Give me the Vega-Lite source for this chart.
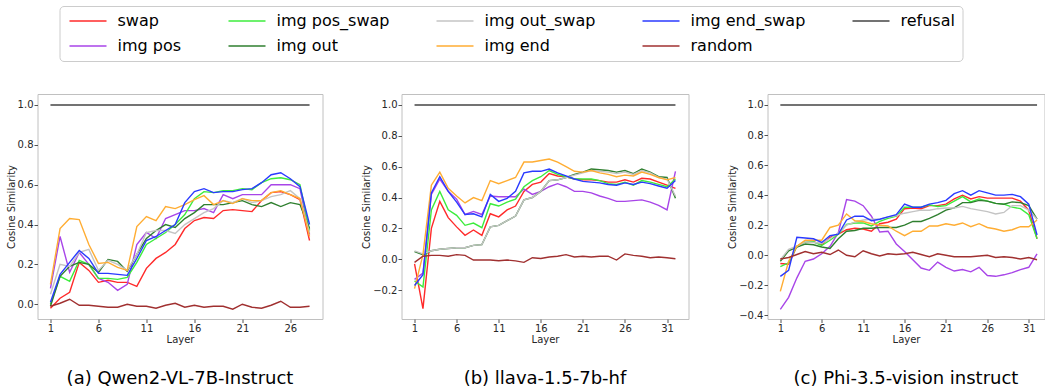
{
"$schema": "https://vega.github.io/schema/vega-lite/v6.json",
"background": "white",
"padding": {"left": 5.5, "top": 5, "right": 0, "bottom": 0},
"spacing": 79,
"bounds": "flush",
"data": {"values": [
{"m":"a","s":"swap","x":1,"y":-0.02},{"m":"a","s":"swap","x":2,"y":0.03},{"m":"a","s":"swap","x":3,"y":0.06},{"m":"a","s":"swap","x":4,"y":0.21},{"m":"a","s":"swap","x":5,"y":0.17},{"m":"a","s":"swap","x":6,"y":0.11},{"m":"a","s":"swap","x":7,"y":0.12},{"m":"a","s":"swap","x":8,"y":0.11},{"m":"a","s":"swap","x":9,"y":0.11},{"m":"a","s":"swap","x":10,"y":0.09},{"m":"a","s":"swap","x":11,"y":0.18},{"m":"a","s":"swap","x":12,"y":0.23},{"m":"a","s":"swap","x":13,"y":0.26},{"m":"a","s":"swap","x":14,"y":0.30},{"m":"a","s":"swap","x":15,"y":0.38},{"m":"a","s":"swap","x":16,"y":0.42},{"m":"a","s":"swap","x":17,"y":0.435},{"m":"a","s":"swap","x":18,"y":0.43},{"m":"a","s":"swap","x":19,"y":0.47},{"m":"a","s":"swap","x":20,"y":0.475},{"m":"a","s":"swap","x":21,"y":0.47},{"m":"a","s":"swap","x":22,"y":0.465},{"m":"a","s":"swap","x":23,"y":0.52},{"m":"a","s":"swap","x":24,"y":0.56},{"m":"a","s":"swap","x":25,"y":0.565},{"m":"a","s":"swap","x":26,"y":0.55},{"m":"a","s":"swap","x":27,"y":0.525},{"m":"a","s":"swap","x":28,"y":0.32},
{"m":"a","s":"img pos","x":1,"y":0.08},{"m":"a","s":"img pos","x":2,"y":0.34},{"m":"a","s":"img pos","x":3,"y":0.16},{"m":"a","s":"img pos","x":4,"y":0.26},{"m":"a","s":"img pos","x":5,"y":0.20},{"m":"a","s":"img pos","x":6,"y":0.13},{"m":"a","s":"img pos","x":7,"y":0.11},{"m":"a","s":"img pos","x":8,"y":0.07},{"m":"a","s":"img pos","x":9,"y":0.10},{"m":"a","s":"img pos","x":10,"y":0.30},{"m":"a","s":"img pos","x":11,"y":0.36},{"m":"a","s":"img pos","x":12,"y":0.33},{"m":"a","s":"img pos","x":13,"y":0.43},{"m":"a","s":"img pos","x":14,"y":0.45},{"m":"a","s":"img pos","x":15,"y":0.47},{"m":"a","s":"img pos","x":16,"y":0.47},{"m":"a","s":"img pos","x":17,"y":0.48},{"m":"a","s":"img pos","x":18,"y":0.46},{"m":"a","s":"img pos","x":19,"y":0.55},{"m":"a","s":"img pos","x":20,"y":0.53},{"m":"a","s":"img pos","x":21,"y":0.55},{"m":"a","s":"img pos","x":22,"y":0.55},{"m":"a","s":"img pos","x":23,"y":0.55},{"m":"a","s":"img pos","x":24,"y":0.60},{"m":"a","s":"img pos","x":25,"y":0.60},{"m":"a","s":"img pos","x":26,"y":0.60},{"m":"a","s":"img pos","x":27,"y":0.58},{"m":"a","s":"img pos","x":28,"y":0.35},
{"m":"a","s":"img pos_swap","x":1,"y":0.00},{"m":"a","s":"img pos_swap","x":2,"y":0.14},{"m":"a","s":"img pos_swap","x":3,"y":0.115},{"m":"a","s":"img pos_swap","x":4,"y":0.22},{"m":"a","s":"img pos_swap","x":5,"y":0.20},{"m":"a","s":"img pos_swap","x":6,"y":0.13},{"m":"a","s":"img pos_swap","x":7,"y":0.13},{"m":"a","s":"img pos_swap","x":8,"y":0.125},{"m":"a","s":"img pos_swap","x":9,"y":0.135},{"m":"a","s":"img pos_swap","x":10,"y":0.21},{"m":"a","s":"img pos_swap","x":11,"y":0.30},{"m":"a","s":"img pos_swap","x":12,"y":0.33},{"m":"a","s":"img pos_swap","x":13,"y":0.36},{"m":"a","s":"img pos_swap","x":14,"y":0.40},{"m":"a","s":"img pos_swap","x":15,"y":0.45},{"m":"a","s":"img pos_swap","x":16,"y":0.53},{"m":"a","s":"img pos_swap","x":17,"y":0.565},{"m":"a","s":"img pos_swap","x":18,"y":0.56},{"m":"a","s":"img pos_swap","x":19,"y":0.57},{"m":"a","s":"img pos_swap","x":20,"y":0.57},{"m":"a","s":"img pos_swap","x":21,"y":0.58},{"m":"a","s":"img pos_swap","x":22,"y":0.575},{"m":"a","s":"img pos_swap","x":23,"y":0.61},{"m":"a","s":"img pos_swap","x":24,"y":0.63},{"m":"a","s":"img pos_swap","x":25,"y":0.635},{"m":"a","s":"img pos_swap","x":26,"y":0.625},{"m":"a","s":"img pos_swap","x":27,"y":0.60},{"m":"a","s":"img pos_swap","x":28,"y":0.37},
{"m":"a","s":"img out","x":1,"y":-0.01},{"m":"a","s":"img out","x":2,"y":0.14},{"m":"a","s":"img out","x":3,"y":0.19},{"m":"a","s":"img out","x":4,"y":0.21},{"m":"a","s":"img out","x":5,"y":0.20},{"m":"a","s":"img out","x":6,"y":0.16},{"m":"a","s":"img out","x":7,"y":0.225},{"m":"a","s":"img out","x":8,"y":0.215},{"m":"a","s":"img out","x":9,"y":0.165},{"m":"a","s":"img out","x":10,"y":0.25},{"m":"a","s":"img out","x":11,"y":0.33},{"m":"a","s":"img out","x":12,"y":0.37},{"m":"a","s":"img out","x":13,"y":0.40},{"m":"a","s":"img out","x":14,"y":0.385},{"m":"a","s":"img out","x":15,"y":0.43},{"m":"a","s":"img out","x":16,"y":0.46},{"m":"a","s":"img out","x":17,"y":0.50},{"m":"a","s":"img out","x":18,"y":0.50},{"m":"a","s":"img out","x":19,"y":0.50},{"m":"a","s":"img out","x":20,"y":0.51},{"m":"a","s":"img out","x":21,"y":0.52},{"m":"a","s":"img out","x":22,"y":0.50},{"m":"a","s":"img out","x":23,"y":0.49},{"m":"a","s":"img out","x":24,"y":0.51},{"m":"a","s":"img out","x":25,"y":0.49},{"m":"a","s":"img out","x":26,"y":0.51},{"m":"a","s":"img out","x":27,"y":0.50},{"m":"a","s":"img out","x":28,"y":0.38},
{"m":"a","s":"img out_swap","x":1,"y":0.05},{"m":"a","s":"img out_swap","x":2,"y":0.20},{"m":"a","s":"img out_swap","x":3,"y":0.19},{"m":"a","s":"img out_swap","x":4,"y":0.26},{"m":"a","s":"img out_swap","x":5,"y":0.275},{"m":"a","s":"img out_swap","x":6,"y":0.17},{"m":"a","s":"img out_swap","x":7,"y":0.22},{"m":"a","s":"img out_swap","x":8,"y":0.20},{"m":"a","s":"img out_swap","x":9,"y":0.17},{"m":"a","s":"img out_swap","x":10,"y":0.25},{"m":"a","s":"img out_swap","x":11,"y":0.36},{"m":"a","s":"img out_swap","x":12,"y":0.37},{"m":"a","s":"img out_swap","x":13,"y":0.37},{"m":"a","s":"img out_swap","x":14,"y":0.355},{"m":"a","s":"img out_swap","x":15,"y":0.40},{"m":"a","s":"img out_swap","x":16,"y":0.43},{"m":"a","s":"img out_swap","x":17,"y":0.46},{"m":"a","s":"img out_swap","x":18,"y":0.48},{"m":"a","s":"img out_swap","x":19,"y":0.52},{"m":"a","s":"img out_swap","x":20,"y":0.51},{"m":"a","s":"img out_swap","x":21,"y":0.53},{"m":"a","s":"img out_swap","x":22,"y":0.51},{"m":"a","s":"img out_swap","x":23,"y":0.52},{"m":"a","s":"img out_swap","x":24,"y":0.54},{"m":"a","s":"img out_swap","x":25,"y":0.55},{"m":"a","s":"img out_swap","x":26,"y":0.57},{"m":"a","s":"img out_swap","x":27,"y":0.53},{"m":"a","s":"img out_swap","x":28,"y":0.36},
{"m":"a","s":"img end","x":1,"y":0.10},{"m":"a","s":"img end","x":2,"y":0.38},{"m":"a","s":"img end","x":3,"y":0.43},{"m":"a","s":"img end","x":4,"y":0.425},{"m":"a","s":"img end","x":5,"y":0.30},{"m":"a","s":"img end","x":6,"y":0.205},{"m":"a","s":"img end","x":7,"y":0.21},{"m":"a","s":"img end","x":8,"y":0.185},{"m":"a","s":"img end","x":9,"y":0.17},{"m":"a","s":"img end","x":10,"y":0.39},{"m":"a","s":"img end","x":11,"y":0.44},{"m":"a","s":"img end","x":12,"y":0.42},{"m":"a","s":"img end","x":13,"y":0.49},{"m":"a","s":"img end","x":14,"y":0.48},{"m":"a","s":"img end","x":15,"y":0.50},{"m":"a","s":"img end","x":16,"y":0.525},{"m":"a","s":"img end","x":17,"y":0.545},{"m":"a","s":"img end","x":18,"y":0.50},{"m":"a","s":"img end","x":19,"y":0.52},{"m":"a","s":"img end","x":20,"y":0.505},{"m":"a","s":"img end","x":21,"y":0.53},{"m":"a","s":"img end","x":22,"y":0.52},{"m":"a","s":"img end","x":23,"y":0.52},{"m":"a","s":"img end","x":24,"y":0.56},{"m":"a","s":"img end","x":25,"y":0.57},{"m":"a","s":"img end","x":26,"y":0.55},{"m":"a","s":"img end","x":27,"y":0.53},{"m":"a","s":"img end","x":28,"y":0.34},
{"m":"a","s":"img end_swap","x":1,"y":0.01},{"m":"a","s":"img end_swap","x":2,"y":0.15},{"m":"a","s":"img end_swap","x":3,"y":0.21},{"m":"a","s":"img end_swap","x":4,"y":0.27},{"m":"a","s":"img end_swap","x":5,"y":0.23},{"m":"a","s":"img end_swap","x":6,"y":0.155},{"m":"a","s":"img end_swap","x":7,"y":0.155},{"m":"a","s":"img end_swap","x":8,"y":0.15},{"m":"a","s":"img end_swap","x":9,"y":0.145},{"m":"a","s":"img end_swap","x":10,"y":0.23},{"m":"a","s":"img end_swap","x":11,"y":0.32},{"m":"a","s":"img end_swap","x":12,"y":0.34},{"m":"a","s":"img end_swap","x":13,"y":0.37},{"m":"a","s":"img end_swap","x":14,"y":0.40},{"m":"a","s":"img end_swap","x":15,"y":0.51},{"m":"a","s":"img end_swap","x":16,"y":0.565},{"m":"a","s":"img end_swap","x":17,"y":0.58},{"m":"a","s":"img end_swap","x":18,"y":0.56},{"m":"a","s":"img end_swap","x":19,"y":0.565},{"m":"a","s":"img end_swap","x":20,"y":0.565},{"m":"a","s":"img end_swap","x":21,"y":0.575},{"m":"a","s":"img end_swap","x":22,"y":0.58},{"m":"a","s":"img end_swap","x":23,"y":0.61},{"m":"a","s":"img end_swap","x":24,"y":0.65},{"m":"a","s":"img end_swap","x":25,"y":0.66},{"m":"a","s":"img end_swap","x":26,"y":0.63},{"m":"a","s":"img end_swap","x":27,"y":0.59},{"m":"a","s":"img end_swap","x":28,"y":0.40},
{"m":"a","s":"random","x":1,"y":-0.01},{"m":"a","s":"random","x":2,"y":0.005},{"m":"a","s":"random","x":3,"y":0.025},{"m":"a","s":"random","x":4,"y":-0.005},{"m":"a","s":"random","x":5,"y":-0.005},{"m":"a","s":"random","x":6,"y":-0.01},{"m":"a","s":"random","x":7,"y":-0.015},{"m":"a","s":"random","x":8,"y":-0.015},{"m":"a","s":"random","x":9,"y":0.00},{"m":"a","s":"random","x":10,"y":-0.01},{"m":"a","s":"random","x":11,"y":-0.01},{"m":"a","s":"random","x":12,"y":-0.02},{"m":"a","s":"random","x":13,"y":-0.005},{"m":"a","s":"random","x":14,"y":0.005},{"m":"a","s":"random","x":15,"y":-0.015},{"m":"a","s":"random","x":16,"y":-0.005},{"m":"a","s":"random","x":17,"y":-0.015},{"m":"a","s":"random","x":18,"y":-0.01},{"m":"a","s":"random","x":19,"y":-0.01},{"m":"a","s":"random","x":20,"y":-0.025},{"m":"a","s":"random","x":21,"y":0.00},{"m":"a","s":"random","x":22,"y":-0.015},{"m":"a","s":"random","x":23,"y":-0.02},{"m":"a","s":"random","x":24,"y":-0.005},{"m":"a","s":"random","x":25,"y":0.015},{"m":"a","s":"random","x":26,"y":-0.015},{"m":"a","s":"random","x":27,"y":-0.015},{"m":"a","s":"random","x":28,"y":-0.01},
{"m":"a","s":"refusal","x":1,"y":1},{"m":"a","s":"refusal","x":2,"y":1},{"m":"a","s":"refusal","x":3,"y":1},{"m":"a","s":"refusal","x":4,"y":1},{"m":"a","s":"refusal","x":5,"y":1},{"m":"a","s":"refusal","x":6,"y":1},{"m":"a","s":"refusal","x":7,"y":1},{"m":"a","s":"refusal","x":8,"y":1},{"m":"a","s":"refusal","x":9,"y":1},{"m":"a","s":"refusal","x":10,"y":1},{"m":"a","s":"refusal","x":11,"y":1},{"m":"a","s":"refusal","x":12,"y":1},{"m":"a","s":"refusal","x":13,"y":1},{"m":"a","s":"refusal","x":14,"y":1},{"m":"a","s":"refusal","x":15,"y":1},{"m":"a","s":"refusal","x":16,"y":1},{"m":"a","s":"refusal","x":17,"y":1},{"m":"a","s":"refusal","x":18,"y":1},{"m":"a","s":"refusal","x":19,"y":1},{"m":"a","s":"refusal","x":20,"y":1},{"m":"a","s":"refusal","x":21,"y":1},{"m":"a","s":"refusal","x":22,"y":1},{"m":"a","s":"refusal","x":23,"y":1},{"m":"a","s":"refusal","x":24,"y":1},{"m":"a","s":"refusal","x":25,"y":1},{"m":"a","s":"refusal","x":26,"y":1},{"m":"a","s":"refusal","x":27,"y":1},{"m":"a","s":"refusal","x":28,"y":1},

{"m":"b","s":"swap","x":1,"y":-0.03},{"m":"b","s":"swap","x":2,"y":-0.32},{"m":"b","s":"swap","x":3,"y":0.20},{"m":"b","s":"swap","x":4,"y":0.375},{"m":"b","s":"swap","x":5,"y":0.27},{"m":"b","s":"swap","x":6,"y":0.21},{"m":"b","s":"swap","x":7,"y":0.155},{"m":"b","s":"swap","x":8,"y":0.19},{"m":"b","s":"swap","x":9,"y":0.155},{"m":"b","s":"swap","x":10,"y":0.295},{"m":"b","s":"swap","x":11,"y":0.275},{"m":"b","s":"swap","x":12,"y":0.32},{"m":"b","s":"swap","x":13,"y":0.345},{"m":"b","s":"swap","x":14,"y":0.44},{"m":"b","s":"swap","x":15,"y":0.485},{"m":"b","s":"swap","x":16,"y":0.50},{"m":"b","s":"swap","x":17,"y":0.555},{"m":"b","s":"swap","x":18,"y":0.54},{"m":"b","s":"swap","x":19,"y":0.535},{"m":"b","s":"swap","x":20,"y":0.52},{"m":"b","s":"swap","x":21,"y":0.515},{"m":"b","s":"swap","x":22,"y":0.515},{"m":"b","s":"swap","x":23,"y":0.51},{"m":"b","s":"swap","x":24,"y":0.50},{"m":"b","s":"swap","x":25,"y":0.50},{"m":"b","s":"swap","x":26,"y":0.515},{"m":"b","s":"swap","x":27,"y":0.50},{"m":"b","s":"swap","x":28,"y":0.525},{"m":"b","s":"swap","x":29,"y":0.52},{"m":"b","s":"swap","x":30,"y":0.50},{"m":"b","s":"swap","x":31,"y":0.48},{"m":"b","s":"swap","x":32,"y":0.46},
{"m":"b","s":"img pos","x":1,"y":-0.13},{"m":"b","s":"img pos","x":2,"y":-0.09},{"m":"b","s":"img pos","x":3,"y":0.42},{"m":"b","s":"img pos","x":4,"y":0.52},{"m":"b","s":"img pos","x":5,"y":0.44},{"m":"b","s":"img pos","x":6,"y":0.39},{"m":"b","s":"img pos","x":7,"y":0.29},{"m":"b","s":"img pos","x":8,"y":0.31},{"m":"b","s":"img pos","x":9,"y":0.29},{"m":"b","s":"img pos","x":10,"y":0.41},{"m":"b","s":"img pos","x":11,"y":0.405},{"m":"b","s":"img pos","x":12,"y":0.405},{"m":"b","s":"img pos","x":13,"y":0.405},{"m":"b","s":"img pos","x":14,"y":0.455},{"m":"b","s":"img pos","x":15,"y":0.42},{"m":"b","s":"img pos","x":16,"y":0.44},{"m":"b","s":"img pos","x":17,"y":0.47},{"m":"b","s":"img pos","x":18,"y":0.49},{"m":"b","s":"img pos","x":19,"y":0.47},{"m":"b","s":"img pos","x":20,"y":0.44},{"m":"b","s":"img pos","x":21,"y":0.44},{"m":"b","s":"img pos","x":22,"y":0.43},{"m":"b","s":"img pos","x":23,"y":0.41},{"m":"b","s":"img pos","x":24,"y":0.395},{"m":"b","s":"img pos","x":25,"y":0.375},{"m":"b","s":"img pos","x":26,"y":0.375},{"m":"b","s":"img pos","x":27,"y":0.38},{"m":"b","s":"img pos","x":28,"y":0.385},{"m":"b","s":"img pos","x":29,"y":0.37},{"m":"b","s":"img pos","x":30,"y":0.35},{"m":"b","s":"img pos","x":31,"y":0.32},{"m":"b","s":"img pos","x":32,"y":0.57},
{"m":"b","s":"img pos_swap","x":1,"y":-0.14},{"m":"b","s":"img pos_swap","x":2,"y":-0.18},{"m":"b","s":"img pos_swap","x":3,"y":0.32},{"m":"b","s":"img pos_swap","x":4,"y":0.44},{"m":"b","s":"img pos_swap","x":5,"y":0.32},{"m":"b","s":"img pos_swap","x":6,"y":0.285},{"m":"b","s":"img pos_swap","x":7,"y":0.22},{"m":"b","s":"img pos_swap","x":8,"y":0.235},{"m":"b","s":"img pos_swap","x":9,"y":0.205},{"m":"b","s":"img pos_swap","x":10,"y":0.36},{"m":"b","s":"img pos_swap","x":11,"y":0.345},{"m":"b","s":"img pos_swap","x":12,"y":0.37},{"m":"b","s":"img pos_swap","x":13,"y":0.39},{"m":"b","s":"img pos_swap","x":14,"y":0.47},{"m":"b","s":"img pos_swap","x":15,"y":0.51},{"m":"b","s":"img pos_swap","x":16,"y":0.535},{"m":"b","s":"img pos_swap","x":17,"y":0.575},{"m":"b","s":"img pos_swap","x":18,"y":0.55},{"m":"b","s":"img pos_swap","x":19,"y":0.535},{"m":"b","s":"img pos_swap","x":20,"y":0.52},{"m":"b","s":"img pos_swap","x":21,"y":0.52},{"m":"b","s":"img pos_swap","x":22,"y":0.52},{"m":"b","s":"img pos_swap","x":23,"y":0.51},{"m":"b","s":"img pos_swap","x":24,"y":0.49},{"m":"b","s":"img pos_swap","x":25,"y":0.485},{"m":"b","s":"img pos_swap","x":26,"y":0.50},{"m":"b","s":"img pos_swap","x":27,"y":0.48},{"m":"b","s":"img pos_swap","x":28,"y":0.51},{"m":"b","s":"img pos_swap","x":29,"y":0.50},{"m":"b","s":"img pos_swap","x":30,"y":0.485},{"m":"b","s":"img pos_swap","x":31,"y":0.47},{"m":"b","s":"img pos_swap","x":32,"y":0.52},
{"m":"b","s":"img out","x":1,"y":0.05},{"m":"b","s":"img out","x":2,"y":0.03},{"m":"b","s":"img out","x":3,"y":0.055},{"m":"b","s":"img out","x":4,"y":0.065},{"m":"b","s":"img out","x":5,"y":0.07},{"m":"b","s":"img out","x":6,"y":0.075},{"m":"b","s":"img out","x":7,"y":0.075},{"m":"b","s":"img out","x":8,"y":0.09},{"m":"b","s":"img out","x":9,"y":0.095},{"m":"b","s":"img out","x":10,"y":0.21},{"m":"b","s":"img out","x":11,"y":0.22},{"m":"b","s":"img out","x":12,"y":0.25},{"m":"b","s":"img out","x":13,"y":0.28},{"m":"b","s":"img out","x":14,"y":0.385},{"m":"b","s":"img out","x":15,"y":0.40},{"m":"b","s":"img out","x":16,"y":0.44},{"m":"b","s":"img out","x":17,"y":0.51},{"m":"b","s":"img out","x":18,"y":0.515},{"m":"b","s":"img out","x":19,"y":0.53},{"m":"b","s":"img out","x":20,"y":0.55},{"m":"b","s":"img out","x":21,"y":0.565},{"m":"b","s":"img out","x":22,"y":0.585},{"m":"b","s":"img out","x":23,"y":0.58},{"m":"b","s":"img out","x":24,"y":0.575},{"m":"b","s":"img out","x":25,"y":0.565},{"m":"b","s":"img out","x":26,"y":0.575},{"m":"b","s":"img out","x":27,"y":0.555},{"m":"b","s":"img out","x":28,"y":0.585},{"m":"b","s":"img out","x":29,"y":0.565},{"m":"b","s":"img out","x":30,"y":0.535},{"m":"b","s":"img out","x":31,"y":0.53},{"m":"b","s":"img out","x":32,"y":0.395},
{"m":"b","s":"img out_swap","x":1,"y":0.055},{"m":"b","s":"img out_swap","x":2,"y":0.035},{"m":"b","s":"img out_swap","x":3,"y":0.055},{"m":"b","s":"img out_swap","x":4,"y":0.065},{"m":"b","s":"img out_swap","x":5,"y":0.07},{"m":"b","s":"img out_swap","x":6,"y":0.075},{"m":"b","s":"img out_swap","x":7,"y":0.075},{"m":"b","s":"img out_swap","x":8,"y":0.09},{"m":"b","s":"img out_swap","x":9,"y":0.095},{"m":"b","s":"img out_swap","x":10,"y":0.21},{"m":"b","s":"img out_swap","x":11,"y":0.22},{"m":"b","s":"img out_swap","x":12,"y":0.25},{"m":"b","s":"img out_swap","x":13,"y":0.28},{"m":"b","s":"img out_swap","x":14,"y":0.385},{"m":"b","s":"img out_swap","x":15,"y":0.40},{"m":"b","s":"img out_swap","x":16,"y":0.44},{"m":"b","s":"img out_swap","x":17,"y":0.51},{"m":"b","s":"img out_swap","x":18,"y":0.515},{"m":"b","s":"img out_swap","x":19,"y":0.53},{"m":"b","s":"img out_swap","x":20,"y":0.545},{"m":"b","s":"img out_swap","x":21,"y":0.56},{"m":"b","s":"img out_swap","x":22,"y":0.575},{"m":"b","s":"img out_swap","x":23,"y":0.57},{"m":"b","s":"img out_swap","x":24,"y":0.565},{"m":"b","s":"img out_swap","x":25,"y":0.555},{"m":"b","s":"img out_swap","x":26,"y":0.565},{"m":"b","s":"img out_swap","x":27,"y":0.55},{"m":"b","s":"img out_swap","x":28,"y":0.575},{"m":"b","s":"img out_swap","x":29,"y":0.56},{"m":"b","s":"img out_swap","x":30,"y":0.53},{"m":"b","s":"img out_swap","x":31,"y":0.52},{"m":"b","s":"img out_swap","x":32,"y":0.41},
{"m":"b","s":"img end","x":1,"y":-0.19},{"m":"b","s":"img end","x":2,"y":0.03},{"m":"b","s":"img end","x":3,"y":0.48},{"m":"b","s":"img end","x":4,"y":0.565},{"m":"b","s":"img end","x":5,"y":0.46},{"m":"b","s":"img end","x":6,"y":0.41},{"m":"b","s":"img end","x":7,"y":0.365},{"m":"b","s":"img end","x":8,"y":0.40},{"m":"b","s":"img end","x":9,"y":0.38},{"m":"b","s":"img end","x":10,"y":0.51},{"m":"b","s":"img end","x":11,"y":0.49},{"m":"b","s":"img end","x":12,"y":0.51},{"m":"b","s":"img end","x":13,"y":0.53},{"m":"b","s":"img end","x":14,"y":0.63},{"m":"b","s":"img end","x":15,"y":0.63},{"m":"b","s":"img end","x":16,"y":0.64},{"m":"b","s":"img end","x":17,"y":0.65},{"m":"b","s":"img end","x":18,"y":0.63},{"m":"b","s":"img end","x":19,"y":0.60},{"m":"b","s":"img end","x":20,"y":0.57},{"m":"b","s":"img end","x":21,"y":0.565},{"m":"b","s":"img end","x":22,"y":0.575},{"m":"b","s":"img end","x":23,"y":0.56},{"m":"b","s":"img end","x":24,"y":0.55},{"m":"b","s":"img end","x":25,"y":0.535},{"m":"b","s":"img end","x":26,"y":0.545},{"m":"b","s":"img end","x":27,"y":0.54},{"m":"b","s":"img end","x":28,"y":0.565},{"m":"b","s":"img end","x":29,"y":0.55},{"m":"b","s":"img end","x":30,"y":0.53},{"m":"b","s":"img end","x":31,"y":0.515},{"m":"b","s":"img end","x":32,"y":0.53},
{"m":"b","s":"img end_swap","x":1,"y":-0.17},{"m":"b","s":"img end_swap","x":2,"y":-0.10},{"m":"b","s":"img end_swap","x":3,"y":0.43},{"m":"b","s":"img end_swap","x":4,"y":0.535},{"m":"b","s":"img end_swap","x":5,"y":0.44},{"m":"b","s":"img end_swap","x":6,"y":0.37},{"m":"b","s":"img end_swap","x":7,"y":0.29},{"m":"b","s":"img end_swap","x":8,"y":0.295},{"m":"b","s":"img end_swap","x":9,"y":0.275},{"m":"b","s":"img end_swap","x":10,"y":0.42},{"m":"b","s":"img end_swap","x":11,"y":0.375},{"m":"b","s":"img end_swap","x":12,"y":0.395},{"m":"b","s":"img end_swap","x":13,"y":0.44},{"m":"b","s":"img end_swap","x":14,"y":0.56},{"m":"b","s":"img end_swap","x":15,"y":0.57},{"m":"b","s":"img end_swap","x":16,"y":0.57},{"m":"b","s":"img end_swap","x":17,"y":0.585},{"m":"b","s":"img end_swap","x":18,"y":0.56},{"m":"b","s":"img end_swap","x":19,"y":0.54},{"m":"b","s":"img end_swap","x":20,"y":0.52},{"m":"b","s":"img end_swap","x":21,"y":0.505},{"m":"b","s":"img end_swap","x":22,"y":0.50},{"m":"b","s":"img end_swap","x":23,"y":0.495},{"m":"b","s":"img end_swap","x":24,"y":0.485},{"m":"b","s":"img end_swap","x":25,"y":0.48},{"m":"b","s":"img end_swap","x":26,"y":0.495},{"m":"b","s":"img end_swap","x":27,"y":0.485},{"m":"b","s":"img end_swap","x":28,"y":0.50},{"m":"b","s":"img end_swap","x":29,"y":0.49},{"m":"b","s":"img end_swap","x":30,"y":0.475},{"m":"b","s":"img end_swap","x":31,"y":0.46},{"m":"b","s":"img end_swap","x":32,"y":0.51},
{"m":"b","s":"random","x":1,"y":-0.02},{"m":"b","s":"random","x":2,"y":0.02},{"m":"b","s":"random","x":3,"y":0.025},{"m":"b","s":"random","x":4,"y":0.025},{"m":"b","s":"random","x":5,"y":0.02},{"m":"b","s":"random","x":6,"y":0.03},{"m":"b","s":"random","x":7,"y":0.025},{"m":"b","s":"random","x":8,"y":-0.005},{"m":"b","s":"random","x":9,"y":-0.005},{"m":"b","s":"random","x":10,"y":-0.005},{"m":"b","s":"random","x":11,"y":-0.01},{"m":"b","s":"random","x":12,"y":-0.005},{"m":"b","s":"random","x":13,"y":-0.01},{"m":"b","s":"random","x":14,"y":-0.02},{"m":"b","s":"random","x":15,"y":0.01},{"m":"b","s":"random","x":16,"y":0.005},{"m":"b","s":"random","x":17,"y":0.015},{"m":"b","s":"random","x":18,"y":0.02},{"m":"b","s":"random","x":19,"y":0.03},{"m":"b","s":"random","x":20,"y":0.015},{"m":"b","s":"random","x":21,"y":0.02},{"m":"b","s":"random","x":22,"y":0.015},{"m":"b","s":"random","x":23,"y":0.02},{"m":"b","s":"random","x":24,"y":0.02},{"m":"b","s":"random","x":25,"y":-0.005},{"m":"b","s":"random","x":26,"y":0.035},{"m":"b","s":"random","x":27,"y":0.025},{"m":"b","s":"random","x":28,"y":0.02},{"m":"b","s":"random","x":29,"y":0.01},{"m":"b","s":"random","x":30,"y":0.015},{"m":"b","s":"random","x":31,"y":0.01},{"m":"b","s":"random","x":32,"y":0.003},
{"m":"b","s":"refusal","x":1,"y":1},{"m":"b","s":"refusal","x":2,"y":1},{"m":"b","s":"refusal","x":3,"y":1},{"m":"b","s":"refusal","x":4,"y":1},{"m":"b","s":"refusal","x":5,"y":1},{"m":"b","s":"refusal","x":6,"y":1},{"m":"b","s":"refusal","x":7,"y":1},{"m":"b","s":"refusal","x":8,"y":1},{"m":"b","s":"refusal","x":9,"y":1},{"m":"b","s":"refusal","x":10,"y":1},{"m":"b","s":"refusal","x":11,"y":1},{"m":"b","s":"refusal","x":12,"y":1},{"m":"b","s":"refusal","x":13,"y":1},{"m":"b","s":"refusal","x":14,"y":1},{"m":"b","s":"refusal","x":15,"y":1},{"m":"b","s":"refusal","x":16,"y":1},{"m":"b","s":"refusal","x":17,"y":1},{"m":"b","s":"refusal","x":18,"y":1},{"m":"b","s":"refusal","x":19,"y":1},{"m":"b","s":"refusal","x":20,"y":1},{"m":"b","s":"refusal","x":21,"y":1},{"m":"b","s":"refusal","x":22,"y":1},{"m":"b","s":"refusal","x":23,"y":1},{"m":"b","s":"refusal","x":24,"y":1},{"m":"b","s":"refusal","x":25,"y":1},{"m":"b","s":"refusal","x":26,"y":1},{"m":"b","s":"refusal","x":27,"y":1},{"m":"b","s":"refusal","x":28,"y":1},{"m":"b","s":"refusal","x":29,"y":1},{"m":"b","s":"refusal","x":30,"y":1},{"m":"b","s":"refusal","x":31,"y":1},{"m":"b","s":"refusal","x":32,"y":1},

{"m":"c","s":"swap","x":1,"y":-0.055},{"m":"c","s":"swap","x":2,"y":-0.06},{"m":"c","s":"swap","x":3,"y":0.06},{"m":"c","s":"swap","x":4,"y":0.09},{"m":"c","s":"swap","x":5,"y":0.09},{"m":"c","s":"swap","x":6,"y":0.07},{"m":"c","s":"swap","x":7,"y":0.12},{"m":"c","s":"swap","x":8,"y":0.14},{"m":"c","s":"swap","x":9,"y":0.17},{"m":"c","s":"swap","x":10,"y":0.18},{"m":"c","s":"swap","x":11,"y":0.175},{"m":"c","s":"swap","x":12,"y":0.16},{"m":"c","s":"swap","x":13,"y":0.21},{"m":"c","s":"swap","x":14,"y":0.22},{"m":"c","s":"swap","x":15,"y":0.24},{"m":"c","s":"swap","x":16,"y":0.31},{"m":"c","s":"swap","x":17,"y":0.315},{"m":"c","s":"swap","x":18,"y":0.31},{"m":"c","s":"swap","x":19,"y":0.33},{"m":"c","s":"swap","x":20,"y":0.33},{"m":"c","s":"swap","x":21,"y":0.34},{"m":"c","s":"swap","x":22,"y":0.375},{"m":"c","s":"swap","x":23,"y":0.40},{"m":"c","s":"swap","x":24,"y":0.375},{"m":"c","s":"swap","x":25,"y":0.39},{"m":"c","s":"swap","x":26,"y":0.38},{"m":"c","s":"swap","x":27,"y":0.38},{"m":"c","s":"swap","x":28,"y":0.38},{"m":"c","s":"swap","x":29,"y":0.38},{"m":"c","s":"swap","x":30,"y":0.36},{"m":"c","s":"swap","x":31,"y":0.30},{"m":"c","s":"swap","x":32,"y":0.11},
{"m":"c","s":"img pos","x":1,"y":-0.36},{"m":"c","s":"img pos","x":2,"y":-0.28},{"m":"c","s":"img pos","x":3,"y":-0.15},{"m":"c","s":"img pos","x":4,"y":-0.04},{"m":"c","s":"img pos","x":5,"y":-0.025},{"m":"c","s":"img pos","x":6,"y":0.01},{"m":"c","s":"img pos","x":7,"y":0.06},{"m":"c","s":"img pos","x":8,"y":0.15},{"m":"c","s":"img pos","x":9,"y":0.37},{"m":"c","s":"img pos","x":10,"y":0.36},{"m":"c","s":"img pos","x":11,"y":0.33},{"m":"c","s":"img pos","x":12,"y":0.26},{"m":"c","s":"img pos","x":13,"y":0.155},{"m":"c","s":"img pos","x":14,"y":0.16},{"m":"c","s":"img pos","x":15,"y":0.075},{"m":"c","s":"img pos","x":16,"y":0.025},{"m":"c","s":"img pos","x":17,"y":-0.03},{"m":"c","s":"img pos","x":18,"y":-0.085},{"m":"c","s":"img pos","x":19,"y":-0.10},{"m":"c","s":"img pos","x":20,"y":-0.045},{"m":"c","s":"img pos","x":21,"y":-0.08},{"m":"c","s":"img pos","x":22,"y":-0.105},{"m":"c","s":"img pos","x":23,"y":-0.095},{"m":"c","s":"img pos","x":24,"y":-0.11},{"m":"c","s":"img pos","x":25,"y":-0.08},{"m":"c","s":"img pos","x":26,"y":-0.135},{"m":"c","s":"img pos","x":27,"y":-0.14},{"m":"c","s":"img pos","x":28,"y":-0.13},{"m":"c","s":"img pos","x":29,"y":-0.115},{"m":"c","s":"img pos","x":30,"y":-0.095},{"m":"c","s":"img pos","x":31,"y":-0.08},{"m":"c","s":"img pos","x":32,"y":0.01},
{"m":"c","s":"img pos_swap","x":1,"y":-0.075},{"m":"c","s":"img pos_swap","x":2,"y":-0.05},{"m":"c","s":"img pos_swap","x":3,"y":0.06},{"m":"c","s":"img pos_swap","x":4,"y":0.09},{"m":"c","s":"img pos_swap","x":5,"y":0.09},{"m":"c","s":"img pos_swap","x":6,"y":0.065},{"m":"c","s":"img pos_swap","x":7,"y":0.10},{"m":"c","s":"img pos_swap","x":8,"y":0.14},{"m":"c","s":"img pos_swap","x":9,"y":0.205},{"m":"c","s":"img pos_swap","x":10,"y":0.215},{"m":"c","s":"img pos_swap","x":11,"y":0.215},{"m":"c","s":"img pos_swap","x":12,"y":0.195},{"m":"c","s":"img pos_swap","x":13,"y":0.225},{"m":"c","s":"img pos_swap","x":14,"y":0.245},{"m":"c","s":"img pos_swap","x":15,"y":0.26},{"m":"c","s":"img pos_swap","x":16,"y":0.32},{"m":"c","s":"img pos_swap","x":17,"y":0.32},{"m":"c","s":"img pos_swap","x":18,"y":0.32},{"m":"c","s":"img pos_swap","x":19,"y":0.335},{"m":"c","s":"img pos_swap","x":20,"y":0.325},{"m":"c","s":"img pos_swap","x":21,"y":0.33},{"m":"c","s":"img pos_swap","x":22,"y":0.36},{"m":"c","s":"img pos_swap","x":23,"y":0.39},{"m":"c","s":"img pos_swap","x":24,"y":0.355},{"m":"c","s":"img pos_swap","x":25,"y":0.375},{"m":"c","s":"img pos_swap","x":26,"y":0.36},{"m":"c","s":"img pos_swap","x":27,"y":0.345},{"m":"c","s":"img pos_swap","x":28,"y":0.34},{"m":"c","s":"img pos_swap","x":29,"y":0.32},{"m":"c","s":"img pos_swap","x":30,"y":0.31},{"m":"c","s":"img pos_swap","x":31,"y":0.27},{"m":"c","s":"img pos_swap","x":32,"y":0.11},
{"m":"c","s":"img out","x":1,"y":-0.04},{"m":"c","s":"img out","x":2,"y":0.03},{"m":"c","s":"img out","x":3,"y":0.055},{"m":"c","s":"img out","x":4,"y":0.075},{"m":"c","s":"img out","x":5,"y":0.07},{"m":"c","s":"img out","x":6,"y":0.055},{"m":"c","s":"img out","x":7,"y":0.045},{"m":"c","s":"img out","x":8,"y":0.11},{"m":"c","s":"img out","x":9,"y":0.16},{"m":"c","s":"img out","x":10,"y":0.165},{"m":"c","s":"img out","x":11,"y":0.18},{"m":"c","s":"img out","x":12,"y":0.18},{"m":"c","s":"img out","x":13,"y":0.185},{"m":"c","s":"img out","x":14,"y":0.185},{"m":"c","s":"img out","x":15,"y":0.185},{"m":"c","s":"img out","x":16,"y":0.20},{"m":"c","s":"img out","x":17,"y":0.225},{"m":"c","s":"img out","x":18,"y":0.225},{"m":"c","s":"img out","x":19,"y":0.245},{"m":"c","s":"img out","x":20,"y":0.27},{"m":"c","s":"img out","x":21,"y":0.30},{"m":"c","s":"img out","x":22,"y":0.315},{"m":"c","s":"img out","x":23,"y":0.35},{"m":"c","s":"img out","x":24,"y":0.35},{"m":"c","s":"img out","x":25,"y":0.365},{"m":"c","s":"img out","x":26,"y":0.36},{"m":"c","s":"img out","x":27,"y":0.345},{"m":"c","s":"img out","x":28,"y":0.34},{"m":"c","s":"img out","x":29,"y":0.355},{"m":"c","s":"img out","x":30,"y":0.35},{"m":"c","s":"img out","x":31,"y":0.33},{"m":"c","s":"img out","x":32,"y":0.24},
{"m":"c","s":"img out_swap","x":1,"y":-0.03},{"m":"c","s":"img out_swap","x":2,"y":0.04},{"m":"c","s":"img out_swap","x":3,"y":0.06},{"m":"c","s":"img out_swap","x":4,"y":0.09},{"m":"c","s":"img out_swap","x":5,"y":0.085},{"m":"c","s":"img out_swap","x":6,"y":0.08},{"m":"c","s":"img out_swap","x":7,"y":0.11},{"m":"c","s":"img out_swap","x":8,"y":0.15},{"m":"c","s":"img out_swap","x":9,"y":0.20},{"m":"c","s":"img out_swap","x":10,"y":0.22},{"m":"c","s":"img out_swap","x":11,"y":0.235},{"m":"c","s":"img out_swap","x":12,"y":0.24},{"m":"c","s":"img out_swap","x":13,"y":0.24},{"m":"c","s":"img out_swap","x":14,"y":0.255},{"m":"c","s":"img out_swap","x":15,"y":0.265},{"m":"c","s":"img out_swap","x":16,"y":0.28},{"m":"c","s":"img out_swap","x":17,"y":0.29},{"m":"c","s":"img out_swap","x":18,"y":0.30},{"m":"c","s":"img out_swap","x":19,"y":0.30},{"m":"c","s":"img out_swap","x":20,"y":0.31},{"m":"c","s":"img out_swap","x":21,"y":0.315},{"m":"c","s":"img out_swap","x":22,"y":0.315},{"m":"c","s":"img out_swap","x":23,"y":0.325},{"m":"c","s":"img out_swap","x":24,"y":0.31},{"m":"c","s":"img out_swap","x":25,"y":0.30},{"m":"c","s":"img out_swap","x":26,"y":0.29},{"m":"c","s":"img out_swap","x":27,"y":0.275},{"m":"c","s":"img out_swap","x":28,"y":0.285},{"m":"c","s":"img out_swap","x":29,"y":0.33},{"m":"c","s":"img out_swap","x":30,"y":0.33},{"m":"c","s":"img out_swap","x":31,"y":0.30},{"m":"c","s":"img out_swap","x":32,"y":0.24},
{"m":"c","s":"img end","x":1,"y":-0.24},{"m":"c","s":"img end","x":2,"y":-0.04},{"m":"c","s":"img end","x":3,"y":0.06},{"m":"c","s":"img end","x":4,"y":0.10},{"m":"c","s":"img end","x":5,"y":0.10},{"m":"c","s":"img end","x":6,"y":0.10},{"m":"c","s":"img end","x":7,"y":0.185},{"m":"c","s":"img end","x":8,"y":0.20},{"m":"c","s":"img end","x":9,"y":0.275},{"m":"c","s":"img end","x":10,"y":0.23},{"m":"c","s":"img end","x":11,"y":0.225},{"m":"c","s":"img end","x":12,"y":0.21},{"m":"c","s":"img end","x":13,"y":0.20},{"m":"c","s":"img end","x":14,"y":0.195},{"m":"c","s":"img end","x":15,"y":0.16},{"m":"c","s":"img end","x":16,"y":0.13},{"m":"c","s":"img end","x":17,"y":0.16},{"m":"c","s":"img end","x":18,"y":0.16},{"m":"c","s":"img end","x":19,"y":0.195},{"m":"c","s":"img end","x":20,"y":0.195},{"m":"c","s":"img end","x":21,"y":0.21},{"m":"c","s":"img end","x":22,"y":0.20},{"m":"c","s":"img end","x":23,"y":0.215},{"m":"c","s":"img end","x":24,"y":0.19},{"m":"c","s":"img end","x":25,"y":0.21},{"m":"c","s":"img end","x":26,"y":0.185},{"m":"c","s":"img end","x":27,"y":0.175},{"m":"c","s":"img end","x":28,"y":0.16},{"m":"c","s":"img end","x":29,"y":0.17},{"m":"c","s":"img end","x":30,"y":0.19},{"m":"c","s":"img end","x":31,"y":0.19},{"m":"c","s":"img end","x":32,"y":0.235},
{"m":"c","s":"img end_swap","x":1,"y":-0.14},{"m":"c","s":"img end_swap","x":2,"y":-0.10},{"m":"c","s":"img end_swap","x":3,"y":0.12},{"m":"c","s":"img end_swap","x":4,"y":0.115},{"m":"c","s":"img end_swap","x":5,"y":0.11},{"m":"c","s":"img end_swap","x":6,"y":0.085},{"m":"c","s":"img end_swap","x":7,"y":0.13},{"m":"c","s":"img end_swap","x":8,"y":0.14},{"m":"c","s":"img end_swap","x":9,"y":0.235},{"m":"c","s":"img end_swap","x":10,"y":0.26},{"m":"c","s":"img end_swap","x":11,"y":0.26},{"m":"c","s":"img end_swap","x":12,"y":0.23},{"m":"c","s":"img end_swap","x":13,"y":0.24},{"m":"c","s":"img end_swap","x":14,"y":0.255},{"m":"c","s":"img end_swap","x":15,"y":0.27},{"m":"c","s":"img end_swap","x":16,"y":0.34},{"m":"c","s":"img end_swap","x":17,"y":0.32},{"m":"c","s":"img end_swap","x":18,"y":0.32},{"m":"c","s":"img end_swap","x":19,"y":0.34},{"m":"c","s":"img end_swap","x":20,"y":0.35},{"m":"c","s":"img end_swap","x":21,"y":0.365},{"m":"c","s":"img end_swap","x":22,"y":0.41},{"m":"c","s":"img end_swap","x":23,"y":0.43},{"m":"c","s":"img end_swap","x":24,"y":0.40},{"m":"c","s":"img end_swap","x":25,"y":0.43},{"m":"c","s":"img end_swap","x":26,"y":0.415},{"m":"c","s":"img end_swap","x":27,"y":0.40},{"m":"c","s":"img end_swap","x":28,"y":0.40},{"m":"c","s":"img end_swap","x":29,"y":0.405},{"m":"c","s":"img end_swap","x":30,"y":0.39},{"m":"c","s":"img end_swap","x":31,"y":0.34},{"m":"c","s":"img end_swap","x":32,"y":0.135},
{"m":"c","s":"random","x":1,"y":-0.025},{"m":"c","s":"random","x":2,"y":-0.015},{"m":"c","s":"random","x":3,"y":0.005},{"m":"c","s":"random","x":4,"y":0.025},{"m":"c","s":"random","x":5,"y":0.01},{"m":"c","s":"random","x":6,"y":0.02},{"m":"c","s":"random","x":7,"y":0.005},{"m":"c","s":"random","x":8,"y":0.035},{"m":"c","s":"random","x":9,"y":0.00},{"m":"c","s":"random","x":10,"y":-0.01},{"m":"c","s":"random","x":11,"y":0.03},{"m":"c","s":"random","x":12,"y":0.01},{"m":"c","s":"random","x":13,"y":-0.005},{"m":"c","s":"random","x":14,"y":0.01},{"m":"c","s":"random","x":15,"y":0.005},{"m":"c","s":"random","x":16,"y":0.01},{"m":"c","s":"random","x":17,"y":0.02},{"m":"c","s":"random","x":18,"y":0.005},{"m":"c","s":"random","x":19,"y":-0.01},{"m":"c","s":"random","x":20,"y":0.01},{"m":"c","s":"random","x":21,"y":0.00},{"m":"c","s":"random","x":22,"y":-0.01},{"m":"c","s":"random","x":23,"y":-0.01},{"m":"c","s":"random","x":24,"y":-0.01},{"m":"c","s":"random","x":25,"y":-0.005},{"m":"c","s":"random","x":26,"y":0.00},{"m":"c","s":"random","x":27,"y":-0.015},{"m":"c","s":"random","x":28,"y":-0.01},{"m":"c","s":"random","x":29,"y":-0.015},{"m":"c","s":"random","x":30,"y":-0.025},{"m":"c","s":"random","x":31,"y":-0.015},{"m":"c","s":"random","x":32,"y":-0.03},
{"m":"c","s":"refusal","x":1,"y":1},{"m":"c","s":"refusal","x":2,"y":1},{"m":"c","s":"refusal","x":3,"y":1},{"m":"c","s":"refusal","x":4,"y":1},{"m":"c","s":"refusal","x":5,"y":1},{"m":"c","s":"refusal","x":6,"y":1},{"m":"c","s":"refusal","x":7,"y":1},{"m":"c","s":"refusal","x":8,"y":1},{"m":"c","s":"refusal","x":9,"y":1},{"m":"c","s":"refusal","x":10,"y":1},{"m":"c","s":"refusal","x":11,"y":1},{"m":"c","s":"refusal","x":12,"y":1},{"m":"c","s":"refusal","x":13,"y":1},{"m":"c","s":"refusal","x":14,"y":1},{"m":"c","s":"refusal","x":15,"y":1},{"m":"c","s":"refusal","x":16,"y":1},{"m":"c","s":"refusal","x":17,"y":1},{"m":"c","s":"refusal","x":18,"y":1},{"m":"c","s":"refusal","x":19,"y":1},{"m":"c","s":"refusal","x":20,"y":1},{"m":"c","s":"refusal","x":21,"y":1},{"m":"c","s":"refusal","x":22,"y":1},{"m":"c","s":"refusal","x":23,"y":1},{"m":"c","s":"refusal","x":24,"y":1},{"m":"c","s":"refusal","x":25,"y":1},{"m":"c","s":"refusal","x":26,"y":1},{"m":"c","s":"refusal","x":27,"y":1},{"m":"c","s":"refusal","x":28,"y":1},{"m":"c","s":"refusal","x":29,"y":1},{"m":"c","s":"refusal","x":30,"y":1},{"m":"c","s":"refusal","x":31,"y":1},{"m":"c","s":"refusal","x":32,"y":1}
]},
"hconcat": [
{
 "width": 285, "height": 225,
 "title": {"text": "(a) Qwen2-VL-7B-Instruct"},
 "transform": [{"filter": "datum.m == 'a'"}],
 "mark": {"type": "line", "strokeWidth": 1.4},
 "encoding": {
  "x": {"field": "x", "type": "quantitative", "scale": {"domain": [-0.35, 29.35], "nice": false, "zero": false}, "axis": {"values": [1,6,11,16,21,26], "title": "Layer"}},
  "y": {"field": "y", "type": "quantitative", "scale": {"domain": [-0.074, 1.055], "nice": false, "zero": false}, "axis": {"values": [0,0.2,0.4,0.6,0.8,1.0], "format": ".1f", "title": "Cosine Similarity"}},
  "color": {"field": "s", "type": "nominal",
    "scale": {"domain": ["swap","img pos_swap","img out_swap","img end_swap","refusal","img pos","img out","img end","random"], "range": ["#ff2a2a","#3cec3c","#c4c4c4","#2a3aff","#444444","#a845e8","#2f7f2f","#ffad33","#a03030"]},
    "legend": {"orient": "none", "legendX": 22, "legendY": -88, "direction": "horizontal", "columns": 5, "title": null}}
 }
},
{
 "width": 287, "height": 225,
 "title": {"text": "(b) llava-1.5-7b-hf"},
 "transform": [{"filter": "datum.m == 'b'"}],
 "mark": {"type": "line", "strokeWidth": 1.4},
 "encoding": {
  "x": {"field": "x", "type": "quantitative", "scale": {"domain": [-0.55, 33.55], "nice": false, "zero": false}, "axis": {"values": [1,6,11,16,21,26,31], "title": "Layer"}},
  "y": {"field": "y", "type": "quantitative", "scale": {"domain": [-0.387, 1.071], "nice": false, "zero": false}, "axis": {"values": [-0.2,0,0.2,0.4,0.6,0.8,1.0], "format": ".1f", "title": "Cosine Similarity"}},
  "color": {"field": "s", "type": "nominal",
    "scale": {"domain": ["swap","img pos_swap","img out_swap","img end_swap","refusal","img pos","img out","img end","random"], "range": ["#ff2a2a","#3cec3c","#c4c4c4","#2a3aff","#444444","#a845e8","#2f7f2f","#ffad33","#a03030"]},
    "legend": {"orient": "none", "legendX": 22, "legendY": -88, "direction": "horizontal", "columns": 5, "title": null}}
 }
},
{
 "width": 277, "height": 225,
 "title": {"text": "(c) Phi-3.5-vision instruct"},
 "transform": [{"filter": "datum.m == 'c'"}],
 "mark": {"type": "line", "strokeWidth": 1.4},
 "encoding": {
  "x": {"field": "x", "type": "quantitative", "scale": {"domain": [-0.55, 32.9], "nice": false, "zero": false}, "axis": {"values": [1,6,11,16,21,26,31], "title": "Layer"}},
  "y": {"field": "y", "type": "quantitative", "scale": {"domain": [-0.424, 1.073], "nice": false, "zero": false}, "axis": {"values": [-0.4,-0.2,0,0.2,0.4,0.6,0.8,1.0], "format": ".1f", "title": "Cosine Similarity"}},
  "color": {"field": "s", "type": "nominal",
    "scale": {"domain": ["swap","img pos_swap","img out_swap","img end_swap","refusal","img pos","img out","img end","random"], "range": ["#ff2a2a","#3cec3c","#c4c4c4","#2a3aff","#444444","#a845e8","#2f7f2f","#ffad33","#a03030"]},
    "legend": {"orient": "none", "legendX": 22, "legendY": -88, "direction": "horizontal", "columns": 5, "title": null}}
 }
}
],
"config": {
 "view": {"stroke": "#c0c0c0", "strokeWidth": 1},
 "axis": {"labelFont": "DejaVu Sans", "labelFontSize": 10, "labelColor": "#262626", "titleFont": "DejaVu Sans", "titleFontSize": 10, "titleFontWeight": "normal", "titleColor": "#262626", "grid": false, "domain": false, "tickColor": "#555555", "tickSize": 3.5, "labelPadding": 1, "titlePadding": 1},
 "title": {"font": "DejaVu Sans", "fontSize": 18, "fontWeight": "normal", "orient": "bottom", "color": "#000000", "offset": 25, "frame": "group", "anchor": "middle"},
 "legend": {"labelFont": "DejaVu Sans", "labelFontSize": 16, "labelColor": "#000000", "symbolType": "M-1,0H6.4", "symbolSize": 100, "symbolStrokeWidth": 1.6, "labelOffset": 35, "columnPadding": 43, "rowPadding": 9, "padding": 7, "strokeColor": "#cccccc", "cornerRadius": 4, "fillColor": "white", "labelLimit": 300}
}
}
